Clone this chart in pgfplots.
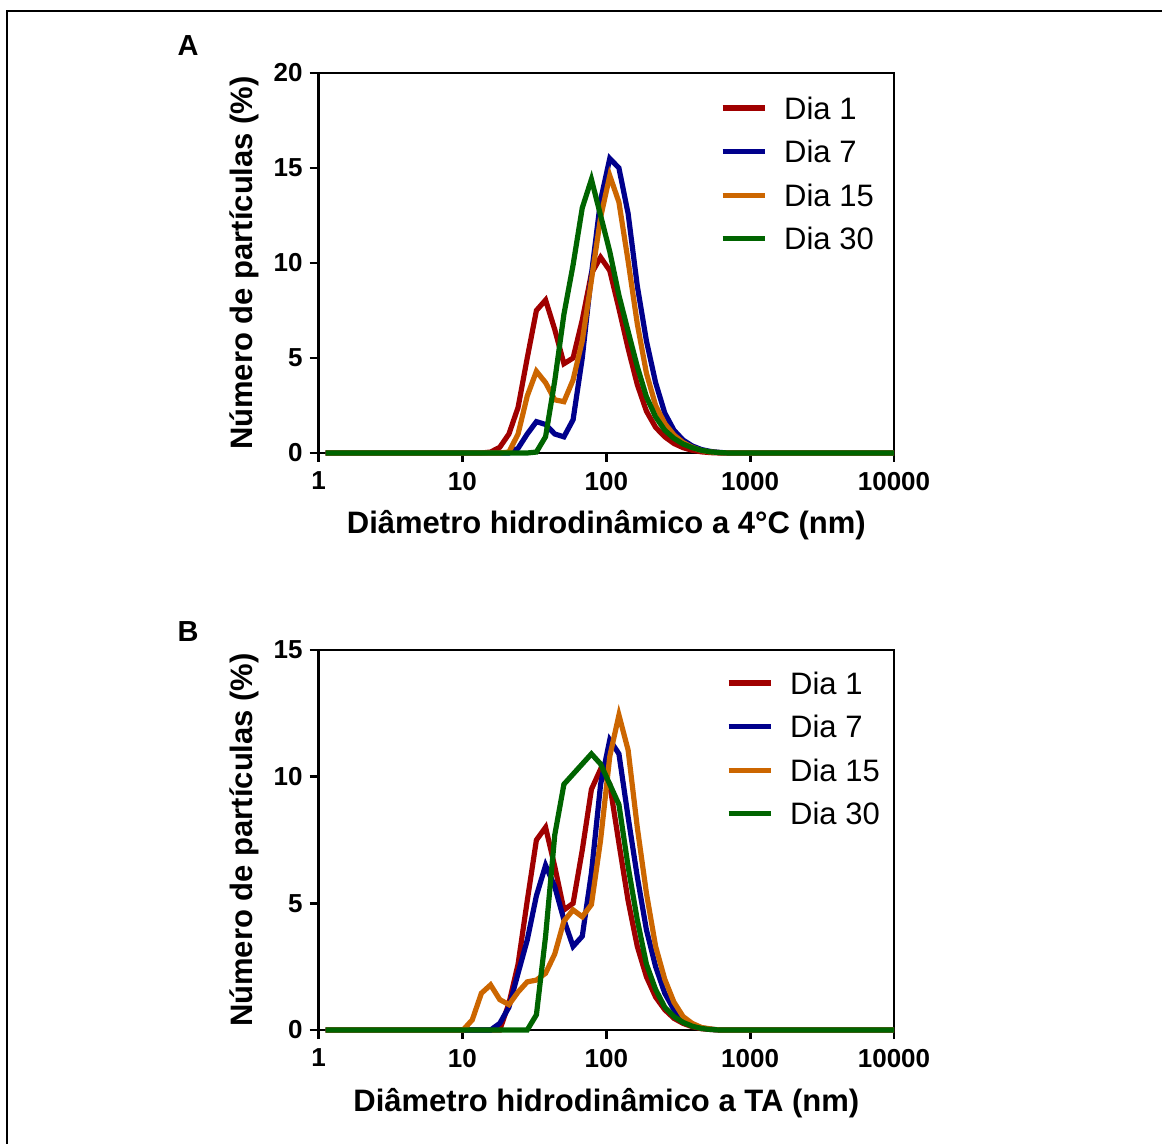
\documentclass[border=0pt]{standalone}
\usepackage{fontspec}
\setmainfont{Liberation Sans}
\usepackage{pgfplots}
\pgfplotsset{compat=1.18}
\definecolor{cred}{RGB}{160,0,0}
\definecolor{cblue}{RGB}{0,0,140}
\definecolor{corange}{RGB}{204,102,0}
\definecolor{cgreen}{RGB}{0,100,0}
\pgfplotsset{
  dlsaxis/.style={
    scale only axis, width=287.7bp, height=190bp,
    xmin=1, xmax=10000, ymin=0,
    xtick={1,10,100,1000,10000}, xticklabels={1,10,100,1000,10000},
    xminorticks=false, yminorticks=false,
    xtick pos=left, ytick pos=left,
    tick align=outside, major tick length=4.5bp,
    tick style={line width=1.4bp, black},
    axis line style={line width=1.4bp},
    clip=false,
    tick label style={font=\fontsize{13bp}{15bp}\selectfont\bfseries},
    xticklabel style={yshift=-1.5bp},
    label style={font=\fontsize{15.5bp}{18bp}\selectfont\bfseries},
    ylabel={Número de partículas (\%)},
    ylabel style={at={(axis description cs:-0.1297,0.5)}, anchor=center},
    every axis plot/.append style={line width=2.6bp},
    legend cell align=left,
    legend image code/.code={\draw[##1,line width=2.6bp] (0bp,0bp) -- (21bp,0bp);},
    legend style={draw=none, fill=none, inner sep=0pt, outer sep=0pt,
      font=\fontsize{15.5bp}{18bp}\selectfont, row sep=10.8bp,
      /tikz/every odd column/.append style={column sep=8.5bp},
      nodes={inner sep=0pt, text height=11bp, text depth=0pt, anchor=west}},
  }
}
\begin{document}
\begin{tikzpicture}
\useasboundingbox (0,0) rectangle (581bp,572bp);
\draw[line width=1bp] (3.5bp,0bp) -- (3.5bp,566.5bp) -- (581bp,566.5bp);
\node[font=\fontsize{14.5bp}{17bp}\selectfont\bfseries] at (94bp,549bp) {A};
\node[font=\fontsize{14.5bp}{17bp}\selectfont\bfseries] at (94bp,256bp) {B};
\begin{semilogxaxis}[dlsaxis, at={(159.3bp,345.5bp)}, anchor=south west,
  ymax=20, ytick={0,5,10,15,20}, yticklabels={0,5,10,15,20},
  xlabel={Diâmetro hidrodinâmico a 4°C (nm)},
  xlabel style={at={(axis description cs:0.5,-0.19)}, anchor=center},
  legend style={at={(rel axis cs:0.6976,0.9368)}, anchor=north west}]
\addplot[cred] coordinates {(1.117,0) (13.54,0) (15.69,0.05) (18.17,0.3) (21.04,1.0) (24.36,2.4) (28.21,5.0) (32.67,7.5) (37.84,8.05) (43.82,6.5) (50.75,4.7) (58.77,5.0) (68.06,7.0) (78.82,9.45) (91.28,10.3) (105.7,9.6) (122.4,7.6) (141.8,5.5) (164.2,3.6) (190.1,2.2) (220.2,1.35) (255.0,0.85) (295.3,0.5) (342.0,0.28) (396.1,0.14) (458.7,0.06) (531.2,0.02) (615.1,0) (10000,0)};
\addlegendentry{Dia 1}
\addplot[cblue] coordinates {(1.117,0) (21.04,0) (24.36,0.25) (28.21,1.0) (32.67,1.65) (37.84,1.5) (43.82,1.0) (50.75,0.85) (58.77,1.75) (68.06,5.0) (78.82,9.4) (91.28,13.3) (105.7,15.5) (122.4,15.0) (141.8,12.6) (164.2,8.8) (190.1,5.9) (220.2,3.7) (255.0,2.1) (295.3,1.2) (342.0,0.68) (396.1,0.37) (458.7,0.18) (531.2,0.08) (615.1,0.03) (712.4,0) (10000,0)};
\addlegendentry{Dia 7}
\addplot[corange] coordinates {(1.117,0) (18.17,0) (21.04,0.05) (24.36,1.0) (28.21,3.0) (32.67,4.3) (37.84,3.7) (43.82,2.8) (50.75,2.7) (58.77,3.85) (68.06,5.9) (78.82,9.1) (91.28,12.4) (105.7,14.6) (122.4,13.2) (141.8,10.1) (164.2,6.8) (190.1,4.2) (220.2,2.5) (255.0,1.55) (295.3,0.95) (342.0,0.55) (396.1,0.3) (458.7,0.13) (531.2,0.05) (615.1,0.02) (712.4,0) (10000,0)};
\addlegendentry{Dia 15}
\addplot[cgreen] coordinates {(1.117,0) (28.21,0) (32.67,0.05) (37.84,0.86) (43.82,3.8) (50.75,7.3) (58.77,9.9) (68.06,12.9) (78.82,14.4) (91.28,12.5) (105.7,10.6) (122.4,8.3) (141.8,6.4) (164.2,4.55) (190.1,2.96) (220.2,1.9) (255.0,1.2) (295.3,0.77) (342.0,0.47) (396.1,0.28) (458.7,0.14) (531.2,0.06) (615.1,0.02) (712.4,0) (10000,0)};
\addlegendentry{Dia 30}
\end{semilogxaxis}
\begin{semilogxaxis}[dlsaxis, at={(159.3bp,57bp)}, anchor=south west,
  ymax=15, ytick={0,5,10,15}, yticklabels={0,5,10,15},
  xlabel={Diâmetro hidrodinâmico a TA (nm)},
  xlabel style={at={(axis description cs:0.5,-0.192)}, anchor=center},
  legend style={at={(rel axis cs:0.708,0.942)}, anchor=north west}]
\addplot[cred] coordinates {(1.117,0) (18.17,0) (21.04,1.05) (24.36,2.6) (28.21,5.1) (32.67,7.5) (37.84,8.0) (43.82,6.45) (50.75,4.74) (58.77,5.0) (68.06,7.1) (78.82,9.5) (91.28,10.3) (105.7,9.7) (122.4,7.37) (141.8,5.1) (164.2,3.3) (190.1,2.1) (220.2,1.3) (255.0,0.8) (295.3,0.46) (342.0,0.26) (396.1,0.13) (458.7,0.05) (531.2,0.02) (615.1,0) (10000,0)};
\addlegendentry{Dia 1}
\addplot[cblue] coordinates {(1.117,0) (15.69,0) (18.17,0.26) (21.04,0.9) (24.36,2.24) (28.21,3.55) (32.67,5.3) (37.84,6.5) (43.82,5.66) (50.75,4.35) (58.77,3.3) (68.06,3.7) (78.82,6.2) (91.28,9.7) (105.7,11.45) (122.4,10.9) (141.8,8.4) (164.2,6.05) (190.1,3.95) (220.2,2.5) (255.0,1.45) (295.3,0.8) (342.0,0.4) (396.1,0.2) (458.7,0.08) (531.2,0.03) (615.1,0) (10000,0)};
\addlegendentry{Dia 7}
\addplot[corange] coordinates {(1.117,0) (10.10,0) (11.70,0.4) (13.54,1.45) (15.69,1.78) (18.17,1.2) (21.04,1.0) (24.36,1.5) (28.21,1.9) (32.67,1.97) (37.84,2.24) (43.82,3.0) (50.75,4.3) (58.77,4.74) (68.06,4.47) (78.82,4.95) (91.28,7.5) (105.7,10.8) (122.4,12.43) (141.8,11.05) (164.2,8.0) (190.1,5.4) (220.2,3.3) (255.0,2.0) (295.3,1.1) (342.0,0.53) (396.1,0.26) (458.7,0.1) (531.2,0.04) (615.1,0) (10000,0)};
\addlegendentry{Dia 15}
\addplot[cgreen] coordinates {(1.117,0) (28.21,0) (32.67,0.6) (37.84,3.7) (43.82,7.7) (50.75,9.7) (58.77,10.1) (68.06,10.5) (78.82,10.9) (91.28,10.5) (105.7,9.7) (122.4,8.9) (141.8,6.45) (164.2,4.35) (190.1,2.6) (220.2,1.6) (255.0,0.9) (295.3,0.53) (342.0,0.3) (396.1,0.15) (458.7,0.06) (531.2,0.02) (615.1,0) (10000,0)};
\addlegendentry{Dia 30}
\end{semilogxaxis}
\end{tikzpicture}
\end{document}
